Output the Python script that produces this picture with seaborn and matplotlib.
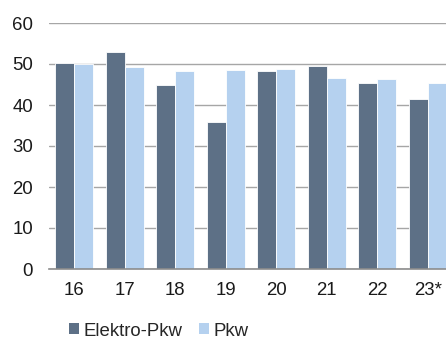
import matplotlib
matplotlib.use("Agg")
import matplotlib.pyplot as plt
from matplotlib.patches import Patch
import seaborn as sns
import pandas as pd

years = ["16", "17", "18", "19", "20", "21", "22", "23*"]
elektro_pkw = [50.2, 53.0, 44.9, 35.9, 48.2, 49.6, 45.3, 41.4]
pkw = [50.1, 49.3, 48.3, 48.6, 48.7, 46.5, 46.3, 45.4]
series_names = ["Elektro-Pkw", "Pkw"]
y_ticks = [0, 10, 20, 30, 40, 50, 60]

colors = ["#5D7086", "#B5D1EF"]

df = pd.DataFrame({
    "Jahr": years * 2,
    "Wert": elektro_pkw + pkw,
    "Serie": [series_names[0]] * len(years) + [series_names[1]] * len(years),
})

sns.set_style("white")
plt.rcParams["font.family"] = ["Liberation Sans", "DejaVu Sans"]

W, H = 446, 340
FS = 13.4
fig = plt.figure(figsize=(W / 100, H / 100), dpi=100)
ax = fig.add_axes([49 / W, (H - 269) / H, 404 / W, 246 / H])

sns.barplot(data=df, x="Jahr", y="Wert", hue="Serie", order=years,
            hue_order=series_names, palette=colors, width=0.75, gap=0,
            edgecolor="white", linewidth=0.6, saturation=1, legend=False, ax=ax)

ax.set_ylim(0, 60)
ax.set_xlim(-0.5, len(years) - 0.5)
ax.set_yticks(y_ticks)
ax.set_yticklabels([str(t) for t in y_ticks])
ax.set_xlabel("")
ax.set_ylabel("")
ax.yaxis.grid(True, color="#A6A6A6", linewidth=1.0)
ax.set_axisbelow(True)
for side in ["top", "right", "left"]:
    ax.spines[side].set_visible(False)
ax.spines["bottom"].set_color("#8C8C8C")
ax.spines["bottom"].set_linewidth(1.2)
ax.tick_params(axis="y", length=0, pad=11.5, labelsize=FS, labelcolor="#1A1A1A")
ax.tick_params(axis="x", length=0, pad=9.5, labelsize=FS, labelcolor="#1A1A1A")

handles = [Patch(facecolor=c, edgecolor="none") for c in colors]
fig.legend(handles, series_names, loc="lower left",
           bbox_to_anchor=(69 / W, 0.5 / H), ncol=2, frameon=False,
           fontsize=FS, handlelength=0.54, handleheight=0.54,
           handletextpad=0.22, columnspacing=0.9, borderaxespad=0,
           borderpad=0)

fig.savefig("out.png", dpi=100)
